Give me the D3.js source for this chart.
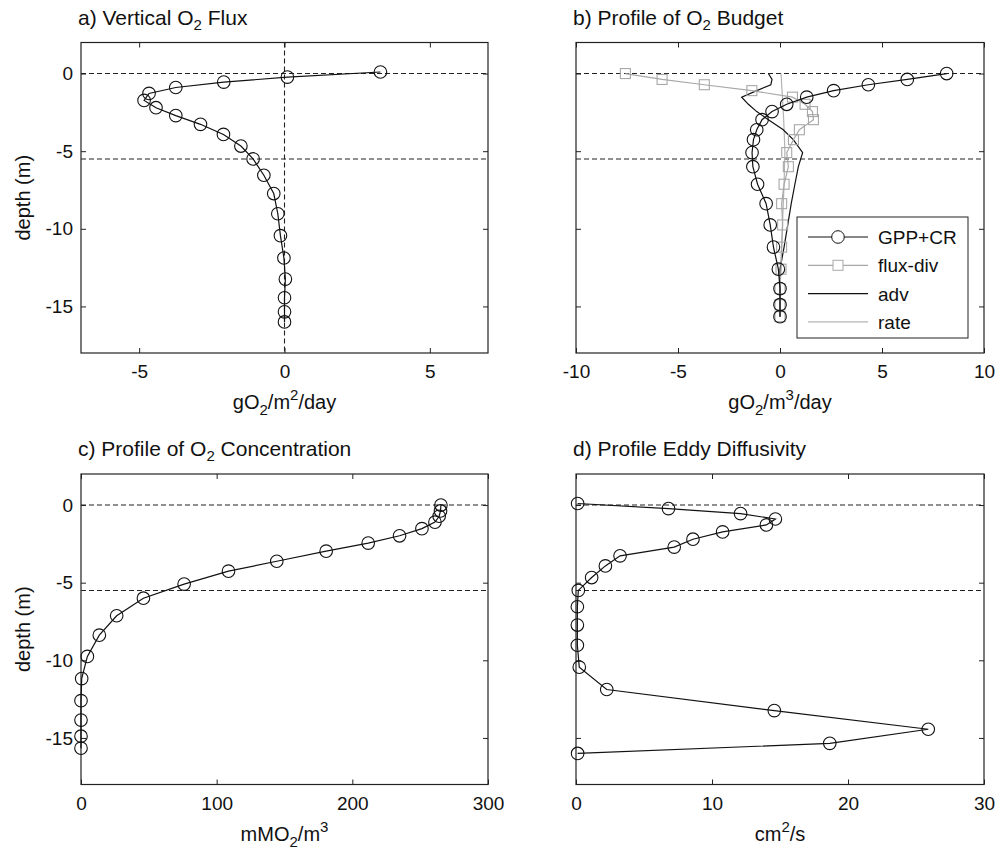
<!DOCTYPE html>
<html>
<head>
<meta charset="utf-8">
<script src="https://cdn.jsdelivr.net/npm/d3@7"></script>
<style>
  body { margin: 0; background: #fff; }
  svg text { font-family: "Liberation Sans", Arial, sans-serif; fill: #111; }
</style>
</head>
<body>
<svg id="fig" width="1008" height="858"></svg>
<script>
// depth grids (m)
var depthNodes = [0.1, -0.23, -0.55, -0.9, -1.28, -1.73, -2.2, -2.71, -3.27, -3.92, -4.67, -5.5, -6.55, -7.73, -9.03, -10.44, -11.88, -13.24, -14.44, -15.35, -16.0];
var depthMid = [0, -0.38, -0.72, -1.1, -1.52, -1.98, -2.45, -2.97, -3.62, -4.26, -5.09, -6.0, -7.13, -8.38, -9.75, -11.18, -12.6, -13.85, -14.89, -15.66];

// a) vertical flux gO2/m2/day
var fluxVals = [3.3, 0.1, -2.09, -3.74, -4.66, -4.83, -4.42, -3.74, -2.89, -2.1, -1.5, -1.08, -0.71, -0.37, -0.23, -0.14, -0.02, 0.03, 0, 0, 0];

// b) O2 budget gO2/m3/day
var gppcr = [8.17, 6.24, 4.33, 2.63, 1.31, 0.33, -0.39, -0.88, -1.14, -1.3, -1.37, -1.33, -1.1, -0.68, -0.48, -0.32, -0.08, 0, 0, 0];
var fluxdiv = [-7.58, -5.78, -3.71, -1.38, 0.61, 1.23, 1.59, 1.64, 0.95, 0.66, 0.33, 0.41, 0.2, 0.08, 0.13, 0.08, 0.05, 0, 0, 0];
var adv = [-0.57, -0.39, -0.45, -1.14, -1.88, -1.55, -1.14, -0.57, 0.16, 0.65, 1.11, 0.9, 0.73, 0.55, 0.38, 0.2, 0, 0, 0, 0];
var rate = [0.05, 0.07, 0.08, 0.1, 0.12, 0.14, 0.16, 0.18, 0.2, 0.22, 0.24, 0.22, 0.2, 0.16, 0.12, 0.08, 0.03, 0, 0, 0];

// c) O2 concentration mMO2/m3
var conc = [265.3, 265, 264, 260.9, 251.3, 234.8, 211.7, 180.7, 144.3, 108.7, 76, 46, 26.3, 13.5, 4.7, 0.5, 0, 0, 0, 0];

// d) eddy diffusivity cm2/s
var kz = [0.12, 6.8, 12.1, 14.66, 14.0, 10.78, 8.6, 7.22, 3.24, 2.16, 1.15, 0.17, 0.1, 0.1, 0.1, 0.24, 2.26, 14.58, 25.9, 18.66, 0.12];

var mixedDepth = [0, -5.5];
var yTicks = [0, -5, -10, -15];

var svg = d3.select("#fig");
var plainFmt = function (d) { return String(d); };  // hyphen minus like the original

function panel(opt) {
    var g = svg.append("g");
    var x = d3.scaleLinear().domain(opt.xdom).range([opt.x0, opt.x1]);
    var y = d3.scaleLinear().domain([2, -18]).range([opt.y0, opt.y1]);

    // ticks (inward, MATLAB box style)
    g.append("g").attr("transform", "translate(0," + opt.y1 + ")")
        .call(d3.axisBottom(x).tickValues(opt.xticks).tickSize(-5).tickPadding(12).tickFormat(plainFmt));
    g.append("g").attr("transform", "translate(0," + opt.y0 + ")")
        .call(d3.axisTop(x).tickValues(opt.xticks).tickSize(-5).tickFormat(""));
    g.append("g").attr("transform", "translate(" + opt.x0 + ",0)")
        .call(d3.axisLeft(y).tickValues(yTicks).tickSize(-5).tickPadding(8)
            .tickFormat(opt.ylabels ? plainFmt : ""));
    g.append("g").attr("transform", "translate(" + opt.x1 + ",0)")
        .call(d3.axisRight(y).tickValues(yTicks).tickSize(-5).tickFormat(""));
    g.selectAll(".domain").remove();
    g.selectAll(".tick line").attr("stroke", "#222");
    g.selectAll(".tick text").attr("font-size", 19).attr("fill", "#111");

    g.append("rect").attr("x", opt.x0).attr("y", opt.y0)
        .attr("width", opt.x1 - opt.x0).attr("height", opt.y1 - opt.y0)
        .attr("fill", "none").attr("stroke", "#222").attr("stroke-width", 1.2);

    // dashed reference lines
    mixedDepth.forEach(function (d) {
        g.append("line").attr("x1", opt.x0).attr("x2", opt.x1)
            .attr("y1", y(d)).attr("y2", y(d))
            .attr("stroke", "#222").attr("stroke-width", 1.1).attr("stroke-dasharray", "5,3");
    });
    if (opt.vzero) {
        g.append("line").attr("x1", x(0)).attr("x2", x(0))
            .attr("y1", opt.y0).attr("y2", opt.y1)
            .attr("stroke", "#222").attr("stroke-width", 1.1).attr("stroke-dasharray", "5,3");
    }

    // title
    var t = g.append("text").attr("x", opt.x0 - 3).attr("y", opt.y0 - 18).attr("font-size", 21);
    opt.title.forEach(function (p) {
        var s = t.append("tspan").text(p[0]);
        if (p[1] == "sub") s.attr("font-size", 15).attr("dy", 5);
        if (p[2] == "back") s.attr("dy", -5);
    });

    // x label
    var xl = g.append("text").attr("x", (opt.x0 + opt.x1) / 2).attr("y", opt.y1 + 56)
        .attr("text-anchor", "middle").attr("font-size", 20);
    opt.xlabel.forEach(function (p) {
        var s = xl.append("tspan").text(p[0]);
        if (p[1] == "sub") s.attr("font-size", 15).attr("dy", 6);
        if (p[1] == "sup") s.attr("font-size", 15).attr("dy", p[2] || -9);
        if (p[1] == "norm") s.attr("dy", p[2] || 0);
    });

    if (opt.ylabels) {
        g.append("text").attr("transform", "translate(30," + ((opt.y0 + opt.y1) / 2) + ") rotate(-90)")
            .attr("text-anchor", "middle").attr("font-size", 20).text("depth (m)");
    }

    g.x = x; g.y = y;
    return g;
}

function series(g, vals, depths, o) {
    var pts = vals.map(function (v, i) { return [v, depths[i]]; });
    var line = d3.line().x(function (d) { return g.x(d[0]); }).y(function (d) { return g.y(d[1]); });
    g.append("path").datum(pts).attr("d", line)
        .attr("fill", "none").attr("stroke", o.color).attr("stroke-width", o.width || 1.2);
    if (o.marker == "circle") {
        g.selectAll(null).data(pts).enter().append("circle")
            .attr("cx", function (d) { return g.x(d[0]); })
            .attr("cy", function (d) { return g.y(d[1]); })
            .attr("r", 6.3).attr("fill", "none").attr("stroke", o.color).attr("stroke-width", 1.1);
    }
    if (o.marker == "square") {
        g.selectAll(null).data(pts).enter().append("rect")
            .attr("x", function (d) { return g.x(d[0]) - 5; })
            .attr("y", function (d) { return g.y(d[1]) - 5; })
            .attr("width", 10).attr("height", 10)
            .attr("fill", "none").attr("stroke", o.color).attr("stroke-width", 1.1);
    }
}

var pa = panel({
    x0: 81, x1: 488, y0: 42.5, y1: 353, xdom: [-7, 7], xticks: [-5, 0, 5], ylabels: true, vzero: true,
    title: [["a) Vertical O"], ["2", "sub"], [" Flux", "", "back"]],
    xlabel: [["gO"], ["2", "sub"], ["/m", "norm", -6], ["2", "sup", -9], ["/day", "norm", 9]]
});
series(pa, fluxVals, depthNodes, { color: "#111", marker: "circle" });

var pb = panel({
    x0: 576, x1: 984, y0: 42.5, y1: 353, xdom: [-10, 10], xticks: [-10, -5, 0, 5, 10], ylabels: false,
    title: [["b) Profile of O"], ["2", "sub"], [" Budget", "", "back"]],
    xlabel: [["gO"], ["2", "sub"], ["/m", "norm", -6], ["3", "sup", -9], ["/day", "norm", 9]]
});
series(pb, rate, depthMid, { color: "#b4b4b4" });
series(pb, adv, depthMid, { color: "#111" });
series(pb, fluxdiv, depthMid, { color: "#a8a8a8", marker: "square" });
series(pb, gppcr, depthMid, { color: "#111", marker: "circle" });

// legend
var legendItems = [
    { name: "GPP+CR", color: "#111", marker: "circle" },
    { name: "flux-div", color: "#a8a8a8", marker: "square" },
    { name: "adv", color: "#111" },
    { name: "rate", color: "#b4b4b4" }
];
var lg = pb.append("g").attr("transform", "translate(797,217)");
lg.append("rect").attr("width", 171).attr("height", 121).attr("fill", "#fff").attr("stroke", "#222").attr("stroke-width", 1);
legendItems.forEach(function (it, i) {
    var yy = 20 + i * 28.3;
    lg.append("line").attr("x1", 11).attr("x2", 71).attr("y1", yy).attr("y2", yy)
        .attr("stroke", it.color).attr("stroke-width", 1.2);
    if (it.marker == "circle") lg.append("circle").attr("cx", 41).attr("cy", yy).attr("r", 6.3)
        .attr("fill", "#fff").attr("stroke", it.color);
    if (it.marker == "square") lg.append("rect").attr("x", 36).attr("y", yy - 5).attr("width", 10).attr("height", 10)
        .attr("fill", "#fff").attr("stroke", it.color);
    lg.append("text").attr("x", 81).attr("y", yy + 7).attr("font-size", 19).text(it.name);
});

var pc = panel({
    x0: 81, x1: 488, y0: 474, y1: 784.5, xdom: [0, 300], xticks: [0, 100, 200, 300], ylabels: true,
    title: [["c) Profile of O"], ["2", "sub"], [" Concentration", "", "back"]],
    xlabel: [["mMO"], ["2", "sub"], ["/m", "norm", -6], ["3", "sup", -9]]
});
series(pc, conc, depthMid, { color: "#111", marker: "circle" });

var pd = panel({
    x0: 576, x1: 984, y0: 474, y1: 784.5, xdom: [0, 30], xticks: [0, 10, 20, 30], ylabels: false,
    title: [["d) Profile Eddy Diffusivity"]],
    xlabel: [["cm"], ["2", "sup", -9], ["/s", "norm", 9]]
});
series(pd, kz, depthNodes, { color: "#111", marker: "circle" });
</script>
</body>
</html>
